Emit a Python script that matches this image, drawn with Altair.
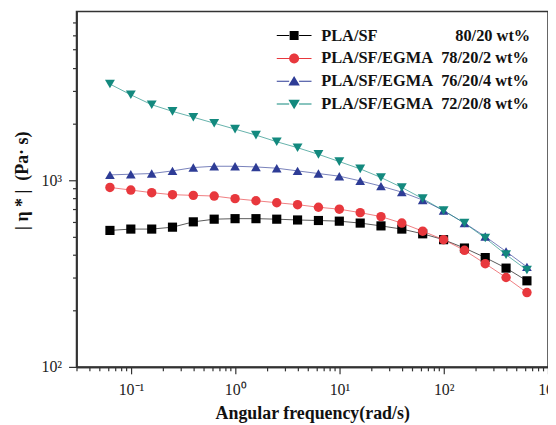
import altair as alt
import pandas as pd

NB = "\u00a0"
series_names = [
    "PLA/SF" + NB * 19 + "80/20 wt%",
    "PLA/SF/EGMA" + NB * 2 + "78/20/2 wt%",
    "PLA/SF/EGMA" + NB * 2 + "76/20/4 wt%",
    "PLA/SF/EGMA" + NB * 2 + "72/20/8 wt%",
]
freq = [0.0628, 0.0996, 0.158, 0.250, 0.396, 0.628, 0.996, 1.58, 2.50, 3.96, 6.28,
        9.96, 15.8, 25.0, 39.6, 62.8, 99.6, 158, 250, 396, 628]
eta_sf = [538, 547, 547, 560, 598, 618, 622, 622, 618, 612, 608, 603, 589, 569, 547,
          516, 480, 433, 385, 338, 289]
eta_2 = [914, 885, 857, 836, 829, 822, 796, 776, 757, 739, 716, 699, 670, 638, 589,
         533, 480, 421, 357, 301, 250]
eta_4 = [1067, 1076, 1085, 1121, 1168, 1187, 1187, 1177, 1159, 1121, 1085, 1050, 991,
         929, 863, 783, 687, 589, 499, 415, 343]
eta_8 = [3270, 2865, 2535, 2336, 2173, 2018, 1876, 1743, 1606, 1492, 1375, 1257, 1149,
         1033, 914, 796, 687, 589, 490, 399, 330]
colors = ["#000000", "#e8383d", "#2e3c96", "#13897e"]
plot_shapes = ["square", "circle", "triangle-up", "triangle-down"]

x_major = [0.1, 1, 10, 100, 1000]
x_minor = [m * 10.0 ** e for e in range(-2, 3) for m in range(2, 10) if m * 10.0 ** e >= 0.03]
y_major = [100, 1000]
y_minor = [m * 10.0 ** e for e in range(2, 4) for m in range(2, 10) if m * 10.0 ** e < 7500]

rows = []
for name, vals in zip(series_names, [eta_sf, eta_2, eta_4, eta_8]):
    for f, v in zip(freq, vals):
        rows.append({"series": name, "freq": f, "eta": v})
df = pd.DataFrame(rows)

line_seg = "M-3.5,-0.1 L-1,-0.1 L-1,0.1 L-3.5,0.1 Z M1,-0.1 L3.5,-0.1 L3.5,0.1 L1,0.1 Z "
legend_shapes = [
    line_seg + "M-0.9,-0.9 L0.9,-0.9 L0.9,0.9 L-0.9,0.9 Z",
    line_seg + "M1,0 A1,1 0 1,1 -1,0 A1,1 0 1,1 1,0 Z",
    line_seg + "M0,-1.05 L1.15,0.85 L-1.15,0.85 Z",
    line_seg + "M0,1.05 L1.15,-0.85 L-1.15,-0.85 Z",
]

xscale = alt.Scale(type="log", domain=[0.03, 1000])
yscale = alt.Scale(type="log", domain=[100, 8000])
cscale = alt.Scale(domain=series_names, range=colors)
serif = "Liberation Serif"

x_lab = "['10⁻¹','10⁰','10¹','10²','10³'][round(log(datum.value)/LN10)+1]"
y_lab = "['10²','10³'][round(log(datum.value)/LN10)-2]"

lines = alt.Chart(df).mark_line(strokeWidth=1, opacity=0.65).encode(
    x=alt.X("freq:Q", scale=xscale,
            axis=alt.Axis(orient="bottom", values=x_minor, tickSize=4, labels=False,
                          title=None, grid=False)),
    y=alt.Y("eta:Q", scale=yscale,
            axis=alt.Axis(orient="left", values=y_minor, tickSize=4, labels=False,
                          title=None, grid=False)),
    color=alt.Color("series:N", scale=cscale, legend=None),
    detail="series:N",
)

points = alt.Chart(df).mark_point(filled=True, opacity=1, strokeWidth=0).encode(
    x=alt.X("freq:Q", scale=xscale,
            axis=alt.Axis(orient="bottom", values=x_major, tickSize=7, labelExpr=x_lab,
                          labelFont=serif, labelFontSize=16, labelPadding=8,
                          labelFlush=False, labelOverlap=False, labelBound=False,
                          title="Angular frequency(rad/s)", titleFont=serif,
                          titleFontSize=18, titleFontWeight="bold", titlePadding=7,
                          grid=False)),
    y=alt.Y("eta:Q", scale=yscale,
            axis=alt.Axis(orient="left", values=y_major, tickSize=8, labelExpr=y_lab,
                          labelFont=serif, labelFontSize=16, labelPadding=7,
                          labelFlush=False,
                          title="|" + NB + "η" + NB + "*" + NB + "|" + NB + NB + "(Pa·" + NB + "s)",
                          titleFont=serif, titleFontSize=18, titleFontWeight="bold",
                          titleX=-45, titleY=170, grid=False)),
    color=alt.Color("series:N", scale=cscale, legend=None),
    shape=alt.Shape("series:N", scale=alt.Scale(domain=series_names, range=plot_shapes),
                    legend=None),
    size=alt.Size("series:N", scale=alt.Scale(domain=series_names, range=[85, 100, 150, 150]),
                  legend=None),
)

leg = dict(title=None, orient="none", legendX=211, legendY=16,
           symbolSize=100, symbolStrokeWidth=0,
           labelFont=serif, labelFontSize=16.5,
           labelFontWeight="bold", labelColor="#111",
           labelOffset=19, rowPadding=6, padding=0,
           labelLimit=400, symbolOpacity=1)

legend_layer = alt.Chart(df).transform_filter("false").mark_point(
    filled=True, opacity=1, strokeWidth=0
).encode(
    color=alt.Color("series:N", scale=cscale, legend=alt.Legend(**leg)),
    shape=alt.Shape("series:N", scale=alt.Scale(domain=series_names, range=legend_shapes),
                    legend=alt.Legend(**leg)),
)

chart = alt.layer(lines, points, legend_layer).resolve_scale(
    color="independent", shape="independent"
).resolve_axis(x="independent", y="independent").properties(
    width=475, height=358,
    autosize=alt.AutoSizeParams(type="none"),
    padding={"left": 69, "top": 2, "right": 0, "bottom": 57},
).configure_view(stroke="#333", strokeWidth=1.5).configure_axis(
    domainColor="#333", domainWidth=1.5, tickColor="#333", tickWidth=1.2,
    labelColor="#222", titleColor="#111",
)

chart.save("out.html", embed_options={"renderer": "svg", "actions": False})
